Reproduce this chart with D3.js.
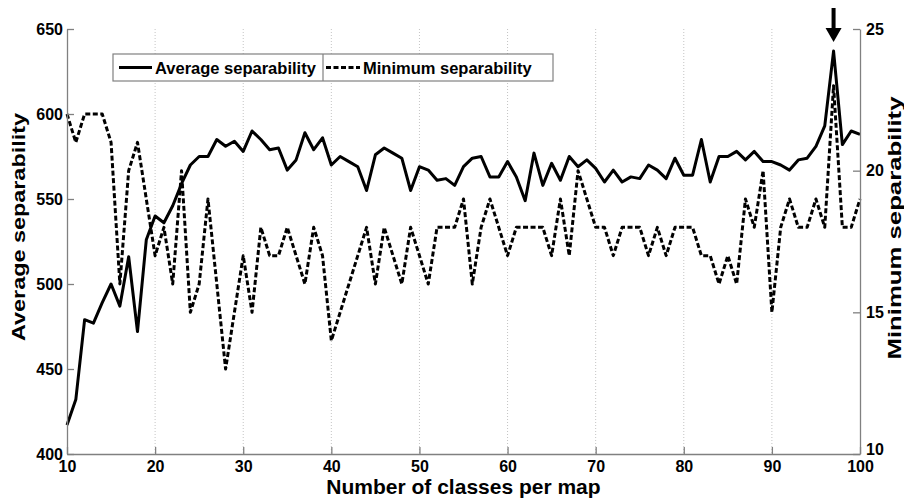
<!DOCTYPE html>
<html>
<head>
<meta charset="utf-8">
<script src="https://cdn.jsdelivr.net/npm/d3@7"></script>
<style>
  body { margin: 0; background: #fff; }
  svg text { font-family: "Liberation Sans", Arial, sans-serif; font-weight: bold; fill: #000; }
</style>
</head>
<body>
<div id="chart"></div>
<script>
// number of classes per map (x)
const classes = [10, 11, 12, 13, 14, 15, 16, 17, 18, 19,
  20, 21, 22, 23, 24, 25, 26, 27, 28, 29,
  30, 31, 32, 33, 34, 35, 36, 37, 38, 39,
  40, 41, 42, 43, 44, 45, 46, 47, 48, 49,
  50, 51, 52, 53, 54, 55, 56, 57, 58, 59,
  60, 61, 62, 63, 64, 65, 66, 67, 68, 69,
  70, 71, 72, 73, 74, 75, 76, 77, 78, 79,
  80, 81, 82, 83, 84, 85, 86, 87, 88, 89,
  90, 91, 92, 93, 94, 95, 96, 97, 98, 99, 100];

// left axis series
const avgSep = [417, 432, 479, 477, 489, 500, 487, 516, 472, 526,
  540, 536, 546, 559, 570, 575, 575, 585, 581, 584,
  578, 590, 585, 579, 580, 567, 573, 589, 579, 586,
  570, 575, 572, 569, 555, 576, 580, 577, 574, 555,
  569, 567, 561, 562, 558, 569, 574, 575, 563, 563,
  572, 563, 549, 577, 558, 571, 561, 575, 569, 573,
  568, 560, 567, 560, 563, 562, 570, 567, 562, 574,
  564, 564, 585, 560, 575, 575, 578, 573, 578, 572,
  572, 570, 567, 573, 574, 581, 593, 637, 582, 590, 588];

// right axis series
const minSep = [22, 21, 22, 22, 22, 21, 16, 20, 21, 19,
  17, 18, 16, 20, 15, 16, 19, 16, 13, 15,
  17, 15, 18, 17, 17, 18, 17, 16, 18, 17,
  14, 15, 16, 17, 18, 16, 18, 17, 16, 18,
  17, 16, 18, 18, 18, 19, 16, 18, 19, 18,
  17, 18, 18, 18, 18, 17, 19, 17, 20, 19,
  18, 18, 17, 18, 18, 18, 17, 18, 17, 18,
  18, 18, 17, 17, 16, 17, 16, 19, 18, 20,
  15, 18, 19, 18, 18, 19, 18, 23, 18, 18, 19];

const xTicks = [10, 20, 30, 40, 50, 60, 70, 80, 90, 100];
const leftTicks = [400, 450, 500, 550, 600, 650];
const rightTicks = [10, 15, 20, 25];
const markedClass = 97;

const width = 904;
const height = 500;
const plotLeft = 67, plotRight = 860, plotTop = 29, plotBottom = 454;

const svg = d3.select('#chart').append('svg')
  .attr('width', width)
  .attr('height', height);

const x = d3.scaleLinear().domain([10, 100]).range([plotLeft, plotRight]);
const yL = d3.scaleLinear().domain([400, 650]).range([plotBottom, plotTop]);
const yR = d3.scaleLinear().domain([10, 25]).range([plotBottom, plotTop]);

// vertical dotted grid
svg.append('g').selectAll('line')
  .data(xTicks.slice(1, -1))
  .enter().append('line')
  .attr('x1', d => x(d)).attr('x2', d => x(d))
  .attr('y1', plotTop).attr('y2', plotBottom)
  .attr('stroke', '#c4c4c4')
  .attr('stroke-width', 1)
  .attr('stroke-dasharray', '1,2');

const avgLine = d3.line()
  .x((d, i) => x(classes[i]))
  .y(d => yL(d));

const minLine = d3.line()
  .x((d, i) => x(classes[i]))
  .y(d => yR(d));

svg.append('path')
  .datum(minSep)
  .attr('d', minLine)
  .attr('fill', 'none')
  .attr('stroke', '#000')
  .attr('stroke-width', 3)
  .attr('stroke-dasharray', '5,2.5')
  .attr('stroke-linejoin', 'round');

svg.append('path')
  .datum(avgSep)
  .attr('d', avgLine)
  .attr('fill', 'none')
  .attr('stroke', '#000')
  .attr('stroke-width', 3)
  .attr('stroke-linejoin', 'round');

// axes
function styleAxis(g) {
  g.selectAll('.domain').attr('stroke', '#808080').attr('stroke-width', 1.3);
  g.selectAll('.tick line').attr('stroke', '#808080').attr('stroke-width', 1.3);
  g.selectAll('.tick text')
    .style('font-size', '16px')
    .style('font-family', '"Liberation Sans", Arial, sans-serif')
    .style('font-weight', 'bold')
    .attr('fill', '#000');
}

const xAxis = d3.axisBottom(x).tickValues(xTicks).tickSizeInner(-7).tickSizeOuter(0).tickPadding(7);
svg.append('g')
  .attr('transform', `translate(0, ${plotBottom})`)
  .call(xAxis)
  .call(styleAxis);

const yAxisL = d3.axisLeft(yL).tickValues(leftTicks).tickSizeInner(-7).tickSizeOuter(0).tickPadding(4);
svg.append('g')
  .attr('transform', `translate(${plotLeft}, 0)`)
  .call(yAxisL)
  .call(styleAxis);

const yAxisR = d3.axisRight(yR).tickValues(rightTicks).tickSizeInner(-7).tickSizeOuter(0).tickPadding(6);
const gRight = svg.append('g')
  .attr('transform', `translate(${plotRight}, 0)`)
  .call(yAxisR)
  .call(styleAxis);
// lowest right label sits a little higher, clear of the "100" below it
gRight.selectAll('.tick text').filter(d => d === 10).attr('dy', '0.05em');

// axis titles
svg.append('text')
  .attr('x', (plotLeft + plotRight) / 2)
  .attr('y', 494)
  .attr('text-anchor', 'middle')
  .style('font-size', '21px')
  .text('Number of classes per map');

svg.append('text')
  .attr('transform', 'translate(25, 227) rotate(-90) scale(1.3, 1)')
  .attr('text-anchor', 'middle')
  .style('font-size', '18px')
  .text('Average separability');

svg.append('text')
  .attr('transform', 'translate(901, 228) rotate(-90) scale(1.43, 1)')
  .attr('text-anchor', 'middle')
  .style('font-size', '18px')
  .text('Minimum separability');

// legend
const legend = svg.append('g');
legend.append('rect')
  .attr('x', 113).attr('y', 54)
  .attr('width', 440).attr('height', 27)
  .attr('fill', '#fff')
  .attr('stroke', '#808080')
  .attr('stroke-width', 1.2);
legend.append('line')
  .attr('x1', 323).attr('x2', 323)
  .attr('y1', 54).attr('y2', 81)
  .attr('stroke', '#808080')
  .attr('stroke-width', 1.2);
legend.append('line')
  .attr('x1', 119).attr('x2', 152)
  .attr('y1', 67.5).attr('y2', 67.5)
  .attr('stroke', '#000').attr('stroke-width', 3);
legend.append('text')
  .attr('x', 155).attr('y', 73.5)
  .style('font-size', '16.5px')
  .text('Average separability');
legend.append('line')
  .attr('x1', 326).attr('x2', 360)
  .attr('y1', 67.5).attr('y2', 67.5)
  .attr('stroke', '#000').attr('stroke-width', 3)
  .attr('stroke-dasharray', '5,2.5');
legend.append('text')
  .attr('x', 363).attr('y', 73.5)
  .style('font-size', '16.5px')
  .text('Minimum separability');

// arrow marking the peak
const ax = x(markedClass);
const tipY = yL(avgSep[classes.indexOf(markedClass)]) - 9;
svg.append('rect')
  .attr('x', ax - 2).attr('y', 8)
  .attr('width', 4).attr('height', tipY - 8 - 10)
  .attr('fill', '#000');
svg.append('path')
  .attr('d', `M${ax - 8},${tipY - 14} L${ax + 8},${tipY - 14} L${ax},${tipY} Z`)
  .attr('fill', '#000');
</script>
</body>
</html>
